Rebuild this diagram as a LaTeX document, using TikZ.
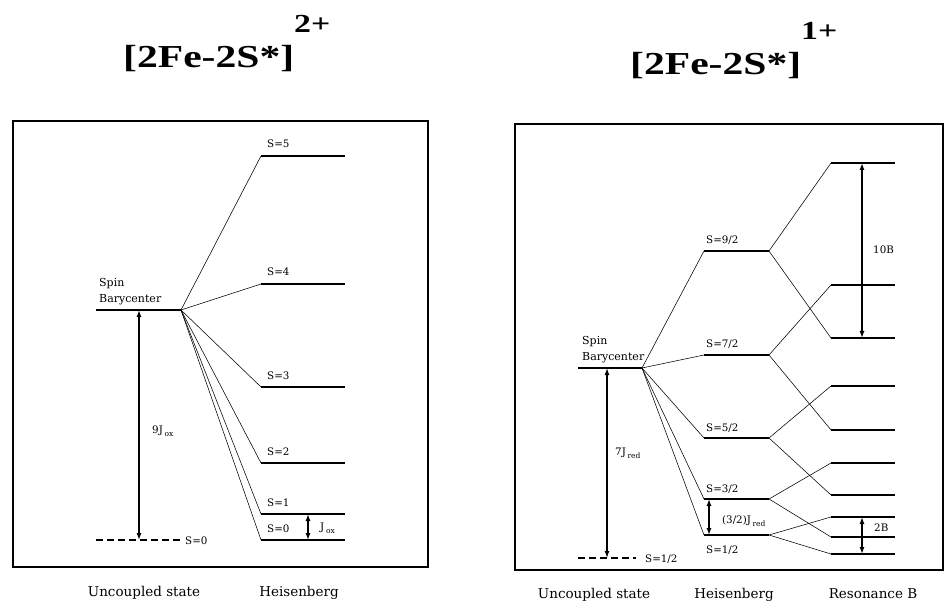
\documentclass[tikz,border=0pt]{standalone}
\usepackage{fontspec}
\setmainfont{Liberation Serif}
\newfontfamily\labfont{DejaVu Serif}
\usetikzlibrary{arrows.meta}
\newcommand\lowsub[1]{\,\raisebox{-3.5pt}{\fontsize{7.5}{8}\selectfont #1}}

\begin{document}
\begin{tikzpicture}[x=1pt,y=-1pt,
  level/.style={line width=1.5pt},link/.style={line width=.55pt},frame/.style={line width=1.4pt},
  gap/.style={{Latex[length=7pt,width=5pt]}-{Latex[length=7pt,width=5pt]},line width=1.3pt},
  lab/.style={font=\labfont\fontsize{10.3}{12}\selectfont,inner sep=0pt},
  foot/.style={font=\labfont\fontsize{13.5}{15}\selectfont,inner sep=0pt,anchor=base},
  ttl/.style={font=\bfseries\fontsize{32}{36}\selectfont,inner sep=0pt,anchor=base west}]
\useasboundingbox (0,0) rectangle (946,604);
\node[ttl] (ox) at (123,68) {\scalebox{1.3}[1]{[2Fe-2S*]\raisebox{35pt}{\fontsize{26}{28}\selectfont 2+}}};
\node[ttl] (red) at (630,75) {\scalebox{1.3}[1]{[2Fe-2S*]\raisebox{35pt}{\fontsize{26}{28}\selectfont 1+}}};
\draw[frame] (13,121) rectangle (428,567);\draw[frame] (515,124) rectangle (943,570);
% oxidized cluster
\coordinate (oa) at (96,310);\coordinate (ob) at (181,310);\draw[level] (oa)--(ob);
\node[lab,font=\labfont\fontsize{11}{16}\selectfont,anchor=south west,align=left] (obar) at (99,305) {Spin\\Barycenter};
\foreach \n/\y in {5/156,4/284,3/387,2/463,1/514,0/540}{
  \coordinate (o\n a) at (261,\y);\coordinate (o\n b) at (345,\y);
  \draw[level] (o\n a)--(o\n b);\draw[link] (ob)--(o\n a);
  \node[lab,anchor=base west] (os\n) at (267,\y-8) {S=\n};
}
\coordinate (ou) at (96,540);\coordinate (ov) at (180,540);
\draw[level,dash pattern=on 7pt off 4pt] (ou)--(ov);\node[lab,anchor=west] (ous) at (185,541) {S=0};
\coordinate (g1) at (139,540);\coordinate (g2) at (139,310);\draw[gap] (g1)--(g2);
\node[lab,anchor=base west] (o9j) at (152,433) {9J\lowsub{ox}};
\coordinate (g3) at (308,514);\coordinate (g4) at (308,540);\draw[gap] (g3)--(g4);
\node[lab,anchor=base west] (ojx) at (320,530) {J\lowsub{ox}};
\node[foot] (ou1) at (144,596) {Uncoupled state};\node[foot] (oh1) at (299,596) {Heisenberg};
% reduced cluster
\coordinate (ra) at (578,368);\coordinate (rb) at (642,368);\draw[level] (ra)--(rb);
\node[lab,font=\labfont\fontsize{11}{16}\selectfont,anchor=south west,align=left] (rbar) at (582,363) {Spin\\Barycenter};
\foreach \n/\y/\u/\d/\l in {9/251/163/338/244,7/355/285/430/348,5/438/386/495/431,3/499/463/537/492,1/535/517/554/553}{
  \coordinate (h\n a) at (704,\y);\coordinate (h\n b) at (769,\y);
  \coordinate (u\n a) at (831,\u);\coordinate (u\n b) at (895,\u);
  \coordinate (d\n a) at (831,\d);\coordinate (d\n b) at (895,\d);
  \draw[level] (h\n a)--(h\n b) (u\n a)--(u\n b) (d\n a)--(d\n b);
  \draw[link] (rb)--(h\n a) (h\n b)--(u\n a) (h\n b)--(d\n a);
  \node[lab,anchor=base west] (hs\n) at (706,\l) {S=\n/2};
}
\coordinate (ru) at (578,558);\coordinate (rv) at (636,558);
\draw[level,dash pattern=on 7pt off 4pt] (ru)--(rv);\node[lab,anchor=west] (rus) at (645,559) {S=1/2};
\coordinate (k1) at (607,558);\coordinate (k2) at (607,368);\draw[gap] (k1)--(k2);
\node[lab,anchor=base west] (r7j) at (615,455) {7J\lowsub{red}};
\coordinate (k3) at (709,499);\coordinate (k4) at (709,535);\draw[gap] (k3)--(k4);
\node[lab,anchor=base west] (r3j) at (722,523) {(3/2)J\lowsub{red}};
\coordinate (k5) at (862,163);\coordinate (k6) at (862,338);\draw[gap] (k5)--(k6);
\node[lab,anchor=base west] (r10) at (873,254) {10B};
\coordinate (k7) at (862,517);\coordinate (k8) at (862,554);\draw[gap] (k7)--(k8);
\node[lab,anchor=base west] (r2b) at (874,531) {2B};
\node[foot] (ru1) at (594,598) {Uncoupled state};\node[foot] (rh1) at (734,598) {Heisenberg};
\node[foot] (rr1) at (873,598) {Resonance B};
\end{tikzpicture}
\end{document}
